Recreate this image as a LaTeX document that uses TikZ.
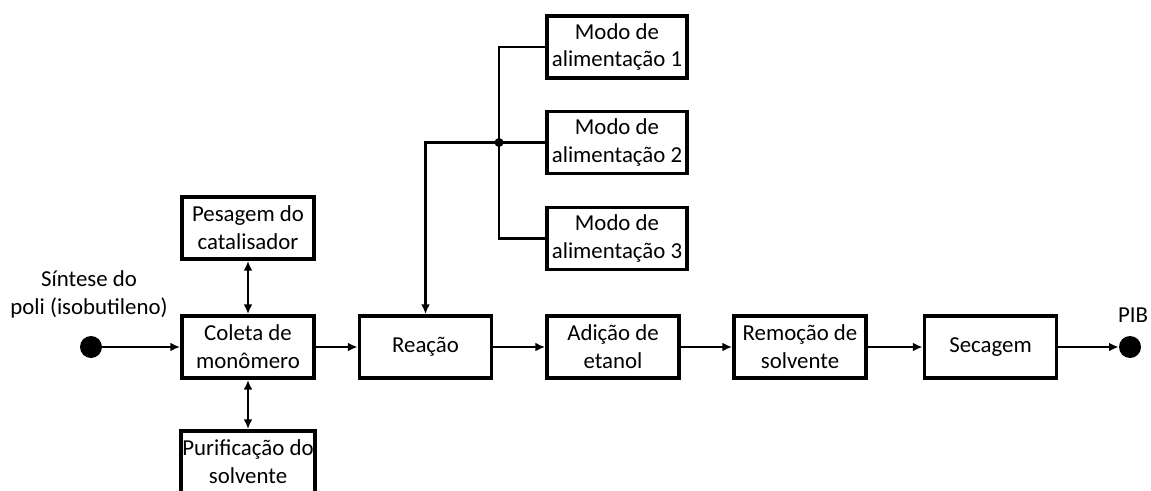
\documentclass[tikz,border=0pt]{standalone}
\usepackage{fontspec}
\setmainfont{Carlito}
\usepackage{tikz}
\usetikzlibrary{arrows.meta,positioning}

\begin{document}
\begin{tikzpicture}[
    x=0.02cm, y=-0.02cm,
    box/.style={draw, line width=2.2pt, minimum width=2.64cm, minimum height=1.24cm, align=center, inner sep=1pt, font=\fontsize{13}{15.9}\selectfont},
    modo/.style={box, minimum width=2.8cm},
    dot/.style={circle, fill=black, inner sep=0pt, minimum size=0.44cm},
    lbl/.style={align=center, font=\fontsize{13}{15.9}\selectfont},
    flow/.style={line width=1.5pt, -{Latex[length=5.5pt,width=5pt]}},
    both/.style={line width=1.5pt, {Latex[length=5.5pt,width=5pt]}-{Latex[length=5.5pt,width=5pt]}},
    link/.style={line width=1.5pt},
]
\useasboundingbox (0,0) rectangle (1151,490);

% Entrada
\node[dot] (inicio) at (91,347) {};
\node[lbl] (sintese) at (89,294) {Síntese do\\poli (isobutileno)};

% Preparo
\node[box] (coleta) at (248,347) {Coleta de\\monômero};
\node[box] (pesagem) at (248,228) {Pesagem do\\catalisador};
\node[box] (purif) at (248,462) {Purificação do\\solvente};

% Linha principal
\node[box] (reacao) at (425.5,347) {Reação};
\node[box] (adicao) at (613,347) {Adição de\\etanol};
\node[box] (remocao) at (800,347) {Remoção de\\solvente};
\node[box] (secagem) at (990.5,347) {Secagem};
\node[dot] (fim) at (1130,347) {};
\node[lbl] (pib) at (1133,315) {PIB};

% Modos de alimentacao
\node[modo] (modoA) at (617,47) {Modo de\\alimentação 1};
\node[modo] (modoB) at (617,142.5) {Modo de\\alimentação 2};
\node[modo] (modoC) at (617,238.5) {Modo de\\alimentação 3};
\coordinate (juncao) at (499,142.5);

% Conexoes
\draw[flow] (inicio) -- (coleta.west);
\draw[both] (pesagem.south) -- (coleta.north);
\draw[both] (purif.north) -- (coleta.south);
\draw[flow] (coleta) -- (reacao);
\draw[flow] (reacao) -- (adicao);
\draw[flow] (adicao) -- (remocao);
\draw[flow] (remocao) -- (secagem);
\draw[flow] (secagem) -- (fim.west);
\draw[link] (modoA.west) -| (juncao |- modoC.west) -- (modoC.west);
\draw[link] (modoB.west) -- (juncao);
\draw[flow] (juncao) -| (reacao.north);
\fill (juncao) circle (0.09cm);

\end{tikzpicture}
\end{document}
